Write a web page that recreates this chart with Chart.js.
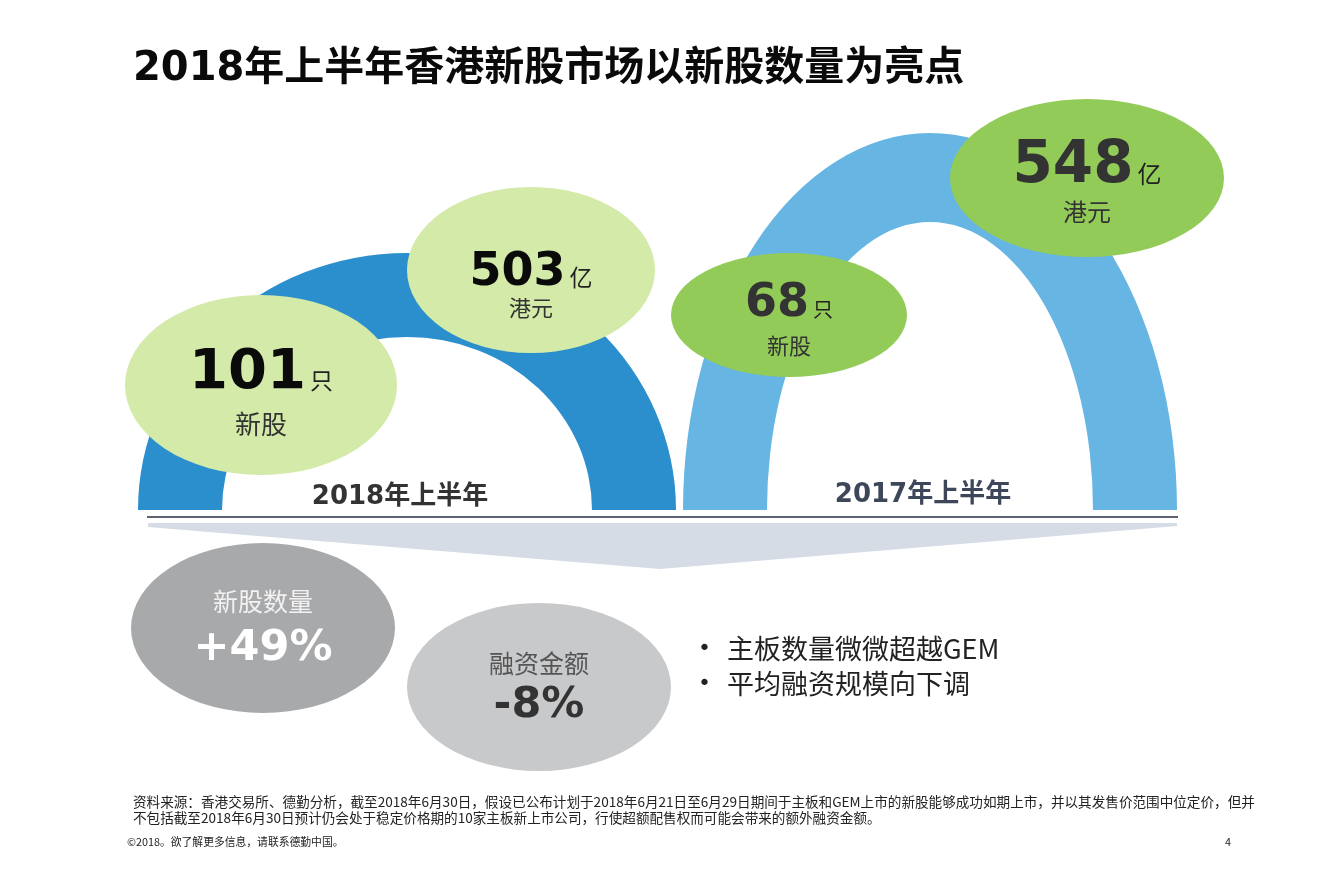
<!DOCTYPE html>
<html>
<head>
    <meta charset="utf-8">
    <title>2018年上半年香港新股市场</title>
    <style>
        body {
            margin: 0;
            padding: 0;
            background-color: #fff;
            font-family: "Noto Sans CJK SC", sans-serif;
        }
        .page {
            position: relative;
            width: 1332px;
            height: 886px;
            overflow: hidden;
        }
        .chart-box {
            position: absolute;
            left: 0;
            top: 0;
            width: 1332px;
            height: 886px;
        }
        h1 {
            position: absolute;
            left: 133px;
            top: 44px;
            margin: 0;
            font-family: "DejaVu Sans", "Noto Sans CJK SC", sans-serif;
            font-weight: bold;
            font-size: 40px;
            line-height: 44px;
            color: #0a0a0a;
            white-space: nowrap;
        }
        .bullets {
            position: absolute;
            left: 698px;
            top: 630px;
            margin: 0;
            padding: 0;
            list-style: none;
            font-size: 27px;
            color: #222;
        }
        .bullets li {
            height: 35px;
            line-height: 35px;
            white-space: nowrap;
        }
        .bullets li:before {
            content: "•";
            display: inline-block;
            width: 29px;
            font-family: "DejaVu Sans", sans-serif;
            font-size: 22px;
            line-height: 35px;
            vertical-align: top;
        }
        .note {
            position: absolute;
            left: 133px;
            top: 793px;
            font-size: 13.6px;
            line-height: 16px;
            color: #222;
            white-space: nowrap;
        }
        .copy {
            position: absolute;
            left: 127px;
            top: 834px;
            font-size: 10.8px;
            line-height: 14px;
            color: #222;
        }
        .pageno {
            position: absolute;
            left: 1225px;
            top: 834px;
            font-size: 10.8px;
            line-height: 14px;
            color: #222;
        }
    </style>
</head>
<body>
<div class="page">
    <div class="chart-box"><canvas id="ipoChart"></canvas></div>
    <h1>2018年上半年香港新股市场以新股数量为亮点</h1>
    <ul class="bullets" id="bullets"></ul>
    <div class="note">资料来源：香港交易所、德勤分析，截至2018年6月30日，假设已公布计划于2018年6月21日至6月29日期间于主板和GEM上市的新股能够成功如期上市，并以其发售价范围中位定价，但并<br>不包括截至2018年6月30日预计仍会处于稳定价格期的10家主板新上市公司，行使超额配售权而可能会带来的额外融资金额。</div>
    <div class="copy">©2018。欲了解更多信息，请联系德勤中国。</div>
    <div class="pageno">4</div>
</div>

<script src="https://cdn.jsdelivr.net/npm/chart.js"></script>
<script>
    // data
    const periods = ['2018年上半年', '2017年上半年'];
    const ipoCounts = [101, 68];          // 只 新股
    const fundsRaised = [503, 548];       // 亿 港元
    const changeNames = ['新股数量', '融资金额'];
    const changeValues = ['+49%', '-8%'];
    const highlights = ['主板数量微微超越GEM', '平均融资规模向下调'];

    // layout in page units (x: 0..1332, y: 0..886)
    const arcs = [
        { cx: 407, base: 510, outer: [269, 257], inner: [185, 173], color: '#2b8fcd', labelY: 497, labelColor: '#333' },
        { cx: 930, base: 510, outer: [247, 377], inner: [163, 288], color: '#66b5e2', labelY: 495, labelColor: '#3e4759' }
    ];
    const countBubbles = [
        { x: 261, y: 385, rx: 136, ry: 90, fill: '#d4eaa8', numSize: 56, unitSize: 23, numBase: 388, subSize: 26, subY: 424, numColor: '#0a0a0a' },
        { x: 789, y: 315, rx: 118, ry: 62, fill: '#93cb58', numSize: 46, unitSize: 20, numBase: 316, subSize: 22, subY: 346, numColor: '#333' }
    ];
    const fundBubbles = [
        { x: 531, y: 270, rx: 124, ry: 83, fill: '#d4eaa8', numSize: 46, unitSize: 23, numBase: 285, subSize: 22, subY: 308, numColor: '#0a0a0a' },
        { x: 1087, y: 178, rx: 137, ry: 79, fill: '#93cb58', numSize: 58, unitSize: 24, numBase: 182, subSize: 24, subY: 212, numColor: '#333' }
    ];
    const changeBubbles = [
        { x: 263, y: 628, rx: 132, ry: 85, fill: '#a8a9ab', nameColor: '#f2f2f2', valColor: '#fff', nameY: 601, valBase: 660 },
        { x: 539, y: 687, rx: 132, ry: 84, fill: '#c8c9cb', nameColor: '#555', valColor: '#333', nameY: 663, valBase: 717 }
    ];

    document.getElementById('bullets').innerHTML =
        highlights.map(function (h) { return '<li>' + h + '</li>'; }).join('');

    const NUM_FONT = '"DejaVu Sans", "Noto Sans CJK SC", sans-serif';
    const CJK_FONT = '"Noto Sans CJK SC", sans-serif';

    function ellipse(ctx, x, y, rx, ry, fill) {
        ctx.beginPath();
        ctx.ellipse(x, y, rx, ry, 0, 0, Math.PI * 2);
        ctx.fillStyle = fill;
        ctx.fill();
    }

    function numberWithUnit(ctx, b, num, unit) {
        ctx.font = 'bold ' + b.numSize + 'px ' + NUM_FONT;
        const wn = ctx.measureText(num).width;
        ctx.font = b.unitSize + 'px ' + CJK_FONT;
        const wu = ctx.measureText(unit).width;
        const gap = 4;
        const left = b.px - (wn + gap + wu) / 2;
        ctx.textAlign = 'left';
        ctx.textBaseline = 'alphabetic';
        ctx.fillStyle = b.numColor;
        ctx.font = 'bold ' + b.numSize + 'px ' + NUM_FONT;
        ctx.fillText(num, left, b.pBase);
        ctx.fillStyle = '#222';
        ctx.font = b.unitSize + 'px ' + CJK_FONT;
        ctx.fillText(unit, left + wn + gap, b.pBase + 1);
    }

    const slidePlugin = {
        id: 'slide',
        afterDraw(chart) {
            const ctx = chart.ctx;
            const sx = chart.scales.x, sy = chart.scales.y;
            const X = function (v) { return sx.getPixelForValue(v); };
            const Y = function (v) { return sy.getPixelForValue(v); };
            const kx = X(1) - X(0), ky = Y(1) - Y(0);
            ctx.save();

            // wedge under the baseline
            ctx.beginPath();
            ctx.moveTo(X(148), Y(523));
            ctx.lineTo(X(1177), Y(523));
            ctx.lineTo(X(1177), Y(526));
            ctx.lineTo(X(660), Y(569));
            ctx.lineTo(X(148), Y(527));
            ctx.closePath();
            ctx.fillStyle = '#d5dce5';
            ctx.fill();

            // baseline
            ctx.beginPath();
            ctx.moveTo(X(147), Y(517));
            ctx.lineTo(X(1178), Y(517));
            ctx.strokeStyle = '#5d6371';
            ctx.lineWidth = 2;
            ctx.stroke();

            // half rings
            arcs.forEach(function (a, i) {
                const cx = X(a.cx), cy = Y(a.base);
                ctx.beginPath();
                ctx.ellipse(cx, cy, a.outer[0] * kx, a.outer[1] * ky, 0, Math.PI, Math.PI * 2, false);
                ctx.lineTo(cx + a.inner[0] * kx, cy);
                ctx.ellipse(cx, cy, a.inner[0] * kx, a.inner[1] * ky, 0, Math.PI * 2, Math.PI, true);
                ctx.closePath();
                ctx.fillStyle = a.color;
                ctx.fill();

                ctx.font = 'bold 26px ' + NUM_FONT;
                ctx.textAlign = 'center';
                ctx.textBaseline = 'middle';
                ctx.fillStyle = a.labelColor;
                ctx.fillText(periods[i], cx - 7, Y(a.labelY));
            });

            // count / funds bubbles
            periods.forEach(function (p, i) {
                [[countBubbles[i], String(ipoCounts[i]), '只', '新股'],
                 [fundBubbles[i], String(fundsRaised[i]), '亿', '港元']].forEach(function (item) {
                    const b = Object.assign({}, item[0]);
                    b.px = X(b.x);
                    b.pBase = Y(b.numBase);
                    ellipse(ctx, b.px, Y(b.y), b.rx * kx, b.ry * ky, b.fill);
                    numberWithUnit(ctx, b, item[1], item[2]);
                    ctx.font = b.subSize + 'px ' + CJK_FONT;
                    ctx.textAlign = 'center';
                    ctx.textBaseline = 'middle';
                    ctx.fillStyle = '#333';
                    ctx.fillText(item[3], b.px, Y(b.subY));
                });
            });

            // change bubbles
            changeBubbles.forEach(function (b, i) {
                ellipse(ctx, X(b.x), Y(b.y), b.rx * kx, b.ry * ky, b.fill);
                ctx.textAlign = 'center';
                ctx.textBaseline = 'middle';
                ctx.font = '25px ' + CJK_FONT;
                ctx.fillStyle = b.nameColor;
                ctx.fillText(changeNames[i], X(b.x), Y(b.nameY));
                ctx.textBaseline = 'alphabetic';
                ctx.font = 'bold 43px ' + NUM_FONT;
                ctx.fillStyle = b.valColor;
                ctx.fillText(changeValues[i], X(b.x), Y(b.valBase));
            });

            ctx.restore();
        }
    };

    new Chart(document.getElementById('ipoChart'), {
        type: 'scatter',
        data: { datasets: [{ data: [], pointRadius: 0 }] },
        options: {
            responsive: true,
            maintainAspectRatio: false,
            animation: false,
            events: [],
            layout: { padding: 0 },
            scales: {
                x: { type: 'linear', min: 0, max: 1332, display: false },
                y: { type: 'linear', min: 0, max: 886, reverse: true, display: false }
            },
            plugins: { legend: { display: false }, tooltip: { enabled: false } }
        },
        plugins: [slidePlugin]
    });
</script>
</body>
</html>
